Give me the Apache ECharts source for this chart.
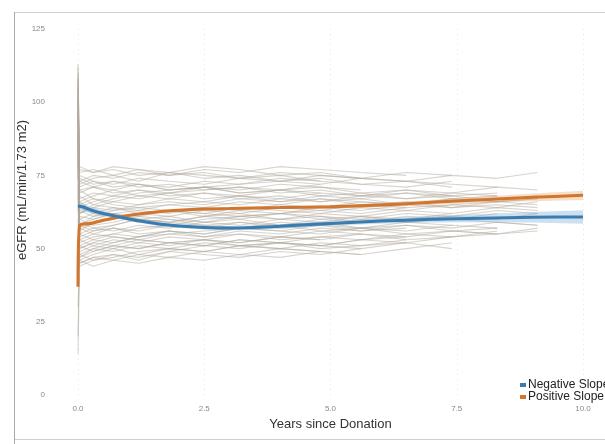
<!DOCTYPE html>
<html>
<head>
<meta charset="utf-8">
<script src="https://cdn.jsdelivr.net/npm/echarts@6/dist/echarts.min.js"></script>
<style>html,body{margin:0;padding:0;background:#fff;}#c{width:605px;height:444px;}</style>
</head>
<body>
<div id="c"></div>
<script>
// x ticks
const xTicks = [0, 2.5, 5, 7.5, 10];
const yTicks = [0, 25, 50, 75, 100, 125];

// time points (years) at which the individual subject traces are sampled
const subjectYears = [0, 0.03, 0.3, 0.7, 1.2, 1.8, 2.5, 3.2, 4, 4.8, 5.6, 6.5, 7.4, 8.3, 9.1];

// individual eGFR traces (first value = pre-donation)
const subjectEGFR = [
  [108, 62, 64, 66, 65, 67, 66, 68, 67, 69, 68, 70, 69, 71, 70],
  [95, 55, 57, 56, 58, 57, 59, 58, 60, 59, 61, 60, 62, null, null],
  [88, 48, 50, 49, 51, 50, 52, 51, 50, 52, 51, 53, null, null, null],
  [102, 72, 74, 75, 73, 76, 75, 74, 76, 75, 74, 73, 72, 71, null],
  [90, 66, 63, 61, 60, 59, 58, 57, 58, 56, 57, 55, 56, 55, 56],
  [85, 52, 54, 55, 57, 58, 60, 61, 62, 63, 62, 64, 65, 66, null],
  [113, 76, 77, 75, 77, 76, 78, 77, 75, 76, 74, null, null, null, null],
  [70, 45, 47, 48, 46, 49, 48, 47, 49, 48, 50, null, null, null, null],
  [98, 60, 58, 59, 61, 60, 59, 61, 60, 62, 61, 63, 62, 64, 63],
  [80, 58, 61, 63, 64, 65, 66, 65, 67, 66, 68, 67, 69, 68, null],
  [105, 70, 71, 69, 70, 68, 69, 67, 68, 66, 67, 65, null, null, null],
  [60, 44, 46, 47, 49, 50, 49, 51, 52, 51, 53, 52, 54, null, null],
  [93, 64, 66, 68, 67, 69, 70, 71, 70, 72, null, null, null, null, null],
  [100, 57, 55, 54, 53, 52, 53, 51, 52, 50, 51, 52, 50, null, null],
  [77, 50, 52, 54, 53, 55, 54, 56, 55, 57, 56, 58, 57, 59, 58],
  [110, 74, 72, 73, 71, 72, 70, 71, 69, 70, 68, 69, 67, 68, null],
  [40, 47, 49, 51, 50, 52, 53, 52, 54, 53, null, null, null, null, null],
  [96, 68, 65, 64, 62, 63, 61, 62, 60, 61, 59, 60, 61, null, null],
  [83, 54, 56, 58, 60, 59, 61, 63, 62, 64, 63, 65, 64, 66, 65],
  [30, 46, 48, 50, 52, 51, 53, 55, 54, 56, 55, null, null, null, null],
  [99, 62, 65, 67, 69, 70, 71, 72, 73, 72, 74, 73, 75, 74, 76],
  [87, 58, 56, 57, 55, 56, 54, 55, 53, 54, 55, 53, 54, 55, null],
  [104, 73, 75, 74, 76, 75, 77, 76, 78, 77, 76, 75, null, null, null],
  [20, 49, 51, 50, 48, 50, 49, 51, 50, 49, 48, 50, 52, null, null],
  [91, 61, 60, 62, 63, 62, 64, 63, 65, 64, 66, 65, 67, 66, 67],
  [75, 53, 55, 57, 56, 58, 57, 59, 58, 60, 59, 61, 60, 62, null],
  [97, 66, 68, 70, 72, 71, 73, 72, 74, 73, 72, 71, 73, null, null],
  [14, 45, 47, 46, 48, 47, 49, 48, 50, 49, null, null, null, null, null],
  [106, 70, 67, 65, 64, 63, 62, 61, 62, 60, 61, 59, 60, 59, 58],
  [82, 56, 59, 60, 62, 61, 63, 62, 64, 63, 65, 64, null, null, null],
  [94, 63, 61, 62, 60, 61, 59, 60, 58, 59, 57, 58, 56, 57, null],
  [50, 47, 50, 52, 54, 55, 56, 57, 56, 58, 57, 59, 58, null, null],
  [101, 75, 73, 71, 72, 70, 71, 69, 70, 68, 69, 67, 68, 66, 67],
  [86, 51, 53, 52, 54, 56, 55, 57, 59, 58, 60, 59, 61, 60, 62],
  [112, 77, 76, 78, 77, 75, 76, 74, 75, 73, null, null, null, null, null],
  [89, 59, 57, 58, 60, 59, 61, 60, 62, 61, 60, 62, 61, 63, 62],
  [92, 67, 69, 68, 70, 69, 71, 70, 72, 71, 70, null, null, null, null],
  [79, 55, 53, 55, 54, 56, 55, 57, 56, 55, 57, 56, 58, 57, null],
  [103, 71, 73, 72, 74, 73, 72, 74, 73, 75, 74, 76, 75, null, null],
  [65, 48, 46, 48, 47, 49, 51, 50, 52, 51, 50, 52, null, null, null],
  [97, 64, 62, 64, 63, 65, 64, 66, 65, 67, 66, 65, 67, 66, 68],
  [84, 60, 62, 61, 59, 60, 58, 59, 57, 58, 56, 57, null, null, null],
  [109, 78, 76, 77, 75, 76, 74, 75, 73, 74, 72, 73, 71, null, null],
  [72, 51, 49, 51, 50, 52, 51, 53, 52, 54, 53, 55, 54, 56, null],
  [95, 69, 71, 70, 68, 69, 67, 68, 66, 67, 65, 66, 64, 65, 64],
  [45, 46, 44, 46, 45, 47, 46, 48, 47, 49, 48, null, null, null, null],
  [88, 58, 60, 62, 61, 63, 62, 64, 63, 62, 64, 63, 65, 64, 66],
  [101, 65, 67, 66, 68, 67, 69, 68, 70, 69, null, null, null, null, null],
  [81, 53, 51, 53, 52, 54, 53, 52, 54, 53, 55, 54, 56, 55, 57],
  [90, 62, 64, 63, 65, 66, 65, 67, 66, 68, 67, 69, 68, null, null],
  [107, 73, 71, 73, 72, 70, 71, 69, 70, 71, 69, 70, 68, 69, null],
  [68, 50, 52, 51, 53, 52, 51, 53, 52, 51, 53, 54, null, null, null]
];

// smoothed group curves
const smoothYears = [0, 0.03, 0.25, 0.5, 0.83, 1.2, 1.6, 2, 2.5, 3, 3.5, 4, 5, 6, 7, 8, 9, 10];
const negativeSlope = [64.5, 64.5, 63.2, 62.0, 60.8, 59.5, 58.4, 57.7, 57.2, 57.0, 57.2, 57.6, 58.6, 59.4, 60.0, 60.4, 60.7, 60.8];
const negativeCI    = [1.2, 1.2, 1.0, 0.9, 0.8, 0.7, 0.7, 0.7, 0.7, 0.7, 0.7, 0.7, 0.8, 0.9, 1.1, 1.4, 1.8, 2.3];
const positiveSlope = [37, 57.8, 58.6, 59.7, 60.8, 61.8, 62.6, 63.1, 63.5, 63.7, 63.9, 64.0, 64.3, 64.9, 65.8, 66.7, 67.5, 68.2];
const positiveCI    = [0, 0.8, 0.7, 0.6, 0.5, 0.5, 0.5, 0.5, 0.5, 0.5, 0.5, 0.5, 0.6, 0.7, 0.8, 1.0, 1.3, 1.6];

const chart = echarts.init(document.getElementById('c'), null, {renderer: 'canvas'});

const series = [];
subjectEGFR.forEach((vals, i) => {
  series.push({
    type: 'line', silent: true, symbol: 'none', z: 1,
    data: subjectYears.map((t, k) => [t, vals[k]]),
    lineStyle: {width: 1.1, color: 'rgba(178,170,158,0.5)'}
  });
});

function bandSeries(vals, ci, startIdx, color) {
  const pts = [];
  for (let k = startIdx; k < smoothYears.length; k++) pts.push([smoothYears[k], vals[k], ci[k]]);
  return {
    type: 'custom', silent: true, z: 2,
    data: [0],
    renderItem: function (params, api) {
      const upper = pts.map(p => api.coord([p[0], p[1] + p[2]]));
      const lower = pts.slice().reverse().map(p => api.coord([p[0], p[1] - p[2]]));
      return {type: 'polygon', shape: {points: upper.concat(lower)}, style: {fill: color}};
    }
  };
}
series.push(bandSeries(negativeSlope, negativeCI, 0, 'rgba(110,165,210,0.35)'));
series.push(bandSeries(positiveSlope, positiveCI, 1, 'rgba(230,160,100,0.35)'));

series.push({
  name: 'Negative Slope', type: 'line', symbol: 'none', smooth: 0.3, z: 4,
  data: smoothYears.map((t, k) => [t, negativeSlope[k]]),
  lineStyle: {width: 3, color: '#3a7cb0'}, itemStyle: {color: '#3a7cb0'}
});
series.push({
  name: 'Positive Slope', type: 'line', symbol: 'none', smooth: 0.3, z: 3,
  data: smoothYears.map((t, k) => [t, positiveSlope[k]]),
  lineStyle: {width: 3, color: '#d0762e'}, itemStyle: {color: '#d0762e'}
});

chart.setOption({
  animation: false,
  backgroundColor: '#fff',
  grid: {left: 78, right: 22, top: 29, bottom: 49, containLabel: false},
  xAxis: {
    type: 'value', min: 0, max: 10, interval: 2.5,
    name: 'Years since Donation', nameLocation: 'middle', nameGap: 19,
    nameTextStyle: {fontSize: 13, color: '#333', fontFamily: 'Liberation Sans'},
    axisLine: {show: false}, axisTick: {show: false},
    axisLabel: {fontSize: 8, color: '#888', margin: 10, fontFamily: 'Liberation Sans',
      formatter: v => v.toFixed(1)},
    splitLine: {show: true, lineStyle: {color: '#e6e6e6', type: [1, 4], width: 1}}
  },
  yAxis: {
    type: 'value', min: 0, max: 125, interval: 25,
    axisLine: {show: false}, axisTick: {show: false},
    axisLabel: {fontSize: 8, color: '#888', margin: 33, fontFamily: 'Liberation Sans'},
    splitLine: {show: false}
  },
  legend: {
    data: ['Negative Slope', 'Positive Slope'],
    orient: 'vertical', left: 515, top: 374,
    itemWidth: 6, itemHeight: 4, itemGap: 0,
    icon: 'rect',
    textStyle: {fontSize: 12, color: '#222', fontFamily: 'Liberation Sans', padding: [0, 0, 0, -3]}
  },
  graphic: [
    {type: 'rect', silent: true, shape: {x: 14.5, y: 12.5, width: 600, height: 427}, style: {fill: null, stroke: '#cfcfcf', lineWidth: 1}},
    {type: 'line', silent: true, shape: {x1: 14.5, y1: 12, x2: 14.5, y2: 444}, style: {stroke: '#a8a8a8', lineWidth: 1}},
    {type: 'text', silent: true, x: 22, y: 190, rotation: Math.PI / 2,
      style: {text: 'eGFR (mL/min/1.73 m2)', fontSize: 13, fill: '#333', fontFamily: 'Liberation Sans', align: 'center', verticalAlign: 'middle'}}
  ],
  series: series
});
</script>
</body>
</html>
